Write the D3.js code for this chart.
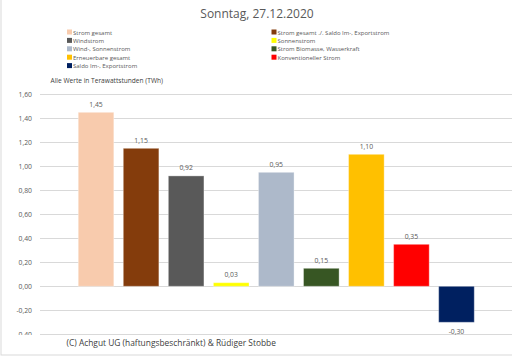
<!DOCTYPE html>
<html><head><meta charset="utf-8">
<script src="https://cdn.jsdelivr.net/npm/d3@7/dist/d3.min.js"></script>
<style>body{margin:0;background:#fff}svg{display:block}text{font-family:"Open Sans",sans-serif}</style>
</head><body><svg id="c" width="512" height="357"></svg>
<script>
const categories = ["Strom gesamt","Strom gesamt ./. Saldo Im-, Exportstrom","Windstrom","Sonnenstrom","Wind-, Sonnenstrom","Strom Biomasse, Wasserkraft","Erneuerbare gesamt","Konventioneller Strom","Saldo Im-, Exportstrom"];
const values = [1.45, 1.15, 0.92, 0.03, 0.95, 0.15, 1.10, 0.35, -0.30];
const colors = ["#F8CBAD","#843C0C","#595959","#FFFF00","#ADB9CA","#375623","#FFC000","#FF0000","#002060"];
const yTicks = [-0.4,-0.2,0,0.2,0.4,0.6,0.8,1.0,1.2,1.4,1.6];
const legendLeft = [0,2,4,6,8];
const legendRight = [1,3,5,7];

const svg = d3.select("#c");
const fmt = v => d3.format(".2f")(v).replace(".", ",").replace("−","-");
const y = d3.scaleLinear().domain([0,1.6]).range([286.3,94.3]);
const x = d3.scaleBand().domain(categories).range([73.5,479]).paddingInner(0.21).paddingOuter(0.105);

// frame
svg.append("rect").attr("x",1).attr("y",-5).attr("width",520).attr("height",360)
  .attr("fill","none").attr("stroke","#D9D9D9").attr("stroke-width",1);

svg.append("text").attr("x",257).attr("y",18).attr("text-anchor","middle")
  .attr("font-size",12).attr("fill","#595959").text("Sonntag, 27.12.2020");

// legend
function legend(idx, sx, ty){
  idx.forEach((i,k)=>{
    const yy = ty + k*8.4;
    svg.append("rect").attr("x",sx).attr("y",yy-3).attr("width",5).attr("height",5).attr("fill",colors[i]);
    svg.append("text").attr("x",sx+6).attr("y",yy+2).attr("font-size",6)
      .attr("font-family","DejaVu Sans, sans-serif").attr("fill","#595959").text(categories[i]);
  });
}
legend(legendLeft, 67, 32.5);
legend(legendRight, 271.5, 32.5);

svg.append("text").attr("x",50.5).attr("y",83).attr("font-size",6.6).attr("fill","#404040")
  .text("Alle Werte in Terawattstunden (TWh)");

// grid
svg.append("g").selectAll("line").data(yTicks).join("line")
  .attr("x1",40).attr("x2",512).attr("y1",d=>Math.round(y(d))+0.5).attr("y2",d=>Math.round(y(d))+0.5)
  .attr("stroke","#D9D9D9").attr("stroke-width",1);

// y axis
const ax = svg.append("g").attr("transform","translate(32,0)")
  .call(d3.axisLeft(y).tickValues(yTicks).tickFormat(fmt).tickSize(0).tickPadding(0));
ax.select(".domain").remove();
ax.selectAll("text").attr("font-size",6.8).attr("fill","#595959").attr("font-family","Open Sans, sans-serif");

// bars
svg.append("g").selectAll("rect").data(values).join("rect")
  .attr("x",(d,i)=>x(categories[i])).attr("width",x.bandwidth())
  .attr("y",d=>y(Math.max(0,d))).attr("height",d=>Math.abs(y(d)-y(0)))
  .attr("fill",(d,i)=>colors[i]).attr("stroke","#ffffff").attr("stroke-opacity",0.35).attr("stroke-width",1);

svg.append("g").selectAll("text").data(values).join("text")
  .attr("x",(d,i)=>x(categories[i])+x.bandwidth()/2)
  .attr("y",d=> d>=0 ? y(d)-5.5 : y(d)+11.5)
  .attr("text-anchor","middle").attr("font-size",6.8).attr("fill","#595959")
  .text(d=>fmt(d));

// copyright box
svg.append("rect").attr("x",10).attr("y",335).attr("width",290).attr("height",17).attr("fill","#fff");
svg.append("text").attr("x",66.5).attr("y",345.5).attr("font-size",8.4).attr("fill","#404040")
  .text("(C) Achgut UG (haftungsbeschränkt) & Rüdiger Stobbe");
</script></body></html>
